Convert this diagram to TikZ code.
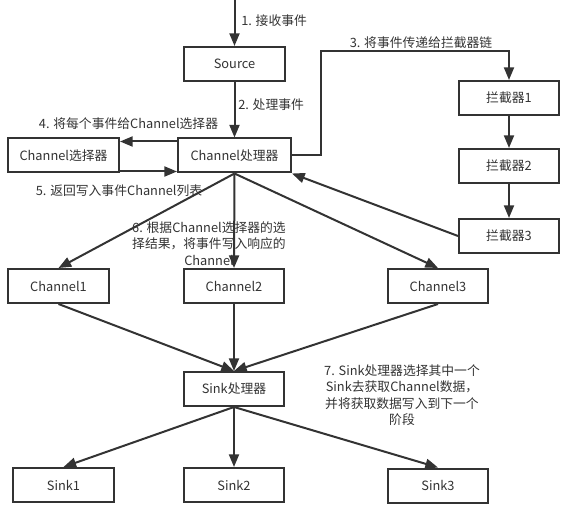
\documentclass[tikz,border=0pt]{standalone}
\usepackage{fontspec}
\setmainfont{Noto Sans CJK SC}
\usetikzlibrary{arrows.meta}
\usepackage{xcolor}
\definecolor{ink}{RGB}{51,51,51}

\begin{document}
\begin{tikzpicture}[x=0.75pt, y=0.75pt, >={Triangle[length=9.5pt, width=7.5pt]},
    box/.style={draw=ink, line width=1.5pt, fill=white, minimum height=25.5pt, inner sep=0pt, text=ink},
    arr/.style={->, draw=ink, line width=1.5pt},
    lbl/.style={text=ink, align=center, inner sep=0pt}]
\fontsize{9.6}{12.3}\selectfont

\useasboundingbox (0,0) rectangle (583,-517);

% boxes: name/x/y/width/text
\def\boxes{src/234.5/64/101/Source, proc/234.5/155.5/113/Channel处理器, sel/63.5/155.5/111/Channel选择器,
    ic1/509/98/100/拦截器1, ic2/509/166/100/拦截器2, ic3/509/236/100/拦截器3,
    ch1/58.5/286/101/Channel1, ch2/234/286/100/Channel2, ch3/438/286/100/Channel3,
    sp/234/389/100/Sink处理器, sk1/63.5/485/101/Sink1, sk2/234/485/100/Sink2, sk3/438/485.5/100/Sink3}

    \foreach \name/\x/\y/\w/\txt in \boxes {
        \node[box, minimum width={0.75pt*\w}] (\name) at (\x,-\y) {\txt};
    }

    % labels
    \node[lbl, anchor=west] (l1) at (241,-21) {1. 接收事件};
    \node[lbl, anchor=west] (l2) at (238,-105) {2. 处理事件};
    \node[lbl] (l3) at (421,-43) {3. 将事件传递给拦截器链};
    \node[lbl] (l4) at (128.5,-124) {4. 将每个事件给Channel选择器};
    \node[lbl] (l5) at (119,-191) {5. 返回写入事件Channel列表};
    \node[lbl] (l6) at (209,-243.5) {6. 根据Channel选择器的选\\择结果，将事件写入响应的\\Channel};
    \node[lbl] (l7) at (402,-395) {7. Sink处理器选择其中一个\\Sink去获取Channel数据，\\并将获取数据写入到下一个\\阶段};

    \coordinate (top) at (234.5,0);
    \coordinate (turn) at (321,-51);

    \draw[arr] (top) -- (src.north);
    \draw[arr] (src.south) -- (proc.north);
    \draw[arr] (proc.east) -| (turn) -| (ic1.north);
    \draw[arr] (ic1) -- (ic2);
    \draw[arr] (ic2) -- (ic3);
    \draw[arr] (ic3.west) -- (proc.south east);
    \draw[arr] ([yshift=10.5pt]proc.west) -- ([yshift=10.5pt]sel.east);
    \draw[arr] ([yshift=-12pt]sel.east) -- ([yshift=-12pt]proc.west);

    \foreach \c in {ch1, ch2, ch3} {
        \draw[arr] (proc.south) -- (\c.north);
        \draw[arr] (\c.south) -- (sp.north);
    }
    \foreach \s in {sk1, sk2, sk3} {
        \draw[arr] (sp.south) -- (\s.north);
    }

\end{tikzpicture}
\end{document}
